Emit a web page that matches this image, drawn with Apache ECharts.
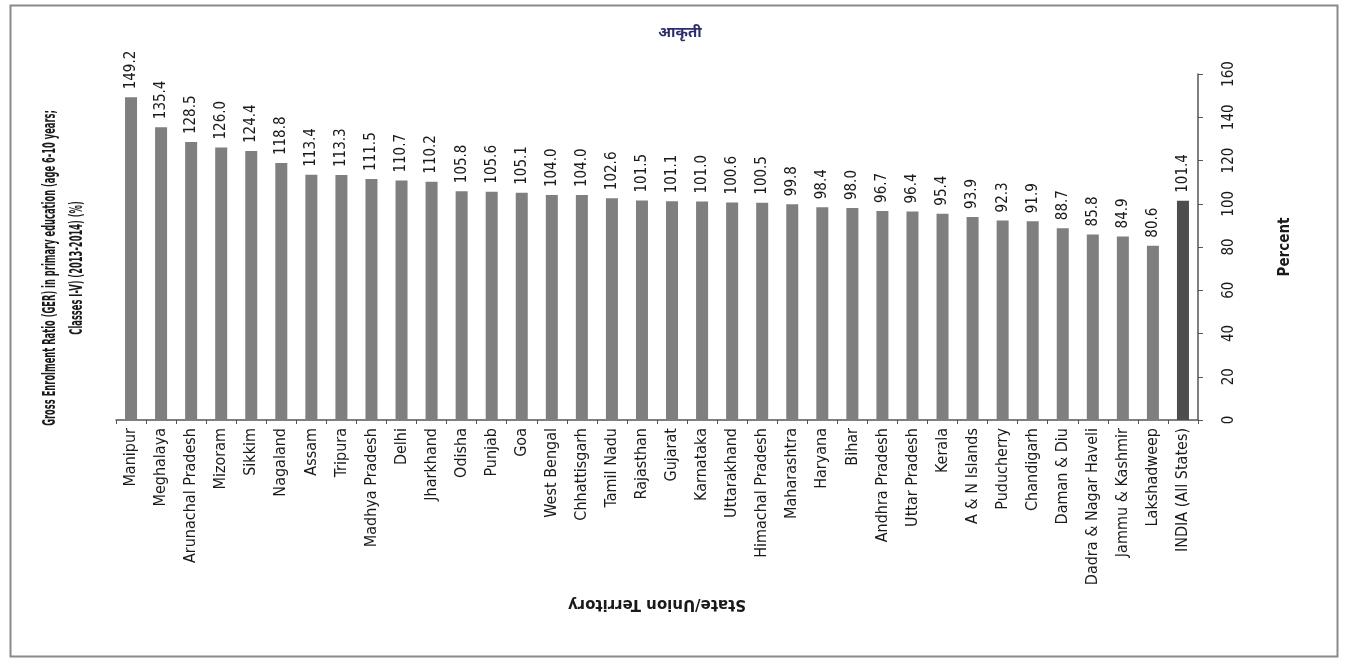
<!DOCTYPE html>
<html>
<head>
<meta charset="utf-8">
<script src="https://cdn.jsdelivr.net/npm/echarts@6/dist/echarts.min.js"></script>
<style>
  html, body { margin: 0; padding: 0; background: #fff; }
  #chart { width: 1346px; height: 660px; }
</style>
</head>
<body>
<div id="chart"></div>
<script>
(function() {
  var states = [
    'Manipur', 'Meghalaya', 'Arunachal Pradesh', 'Mizoram', 'Sikkim', 'Nagaland',
    'Assam', 'Tripura', 'Madhya Pradesh', 'Delhi', 'Jharkhand', 'Odisha',
    'Punjab', 'Goa', 'West Bengal', 'Chhattisgarh', 'Tamil Nadu', 'Rajasthan',
    'Gujarat', 'Karnataka', 'Uttarakhand', 'Himachal Pradesh', 'Maharashtra', 'Haryana',
    'Bihar', 'Andhra Pradesh', 'Uttar Pradesh', 'Kerala', 'A & N Islands', 'Puducherry',
    'Chandigarh', 'Daman & Diu', 'Dadra & Nagar Haveli', 'Jammu & Kashmir', 'Lakshadweep', 'INDIA (All States)'
  ];
  var ger = [
    149.2, 135.4, 128.5, 126.0, 124.4, 118.8,
    113.4, 113.3, 111.5, 110.7, 110.2, 105.8,
    105.6, 105.1, 104.0, 104.0, 102.6, 101.5,
    101.1, 101.0, 100.6, 100.5, 99.8, 98.4,
    98.0, 96.7, 96.4, 95.4, 93.9, 92.3,
    91.9, 88.7, 85.8, 84.9, 80.6, 101.4
  ];
  var totalLabel = 'INDIA (All States)';

  var font = '"DejaVu Sans Condensed", "Liberation Sans", sans-serif';
  var ink = '#1a1a1a';
  var barGray = '#7f7f7f';
  var barDark = '#4d4d4d';

  var chart = echarts.init(document.getElementById('chart'), null, { renderer: 'canvas' });

  var barData = ger.map(function(v, i) {
    return {
      value: v,
      itemStyle: { color: states[i] === totalLabel ? barDark : barGray }
    };
  });

  chart.setOption({
    animation: false,
    backgroundColor: '#fff',
    title: {
      text: 'आकृती',
      left: 675,
      top: 20,
      textAlign: 'center',
      textStyle: { color: '#2e2e6e', fontSize: 15, fontWeight: 'bold', fontFamily: '"Noto Sans", sans-serif' }
    },
    grid: { left: 116, right: 148, top: 74, bottom: 240 },
    xAxis: {
      type: 'category',
      data: states,
      name: 'State/Union Territory',
      nameLocation: 'middle',
      nameRotate: 180,
      nameGap: 176,
      nameTextStyle: { color: ink, fontSize: 15, fontWeight: 'bold', fontFamily: '"DejaVu Sans", sans-serif' },
      axisLine: { lineStyle: { color: '#555', width: 1.5 } },
      axisTick: { show: true, length: 4, lineStyle: { color: '#555' } },
      axisLabel: {
        interval: 0,
        rotate: 90,
        margin: 8,
        color: ink,
        fontSize: 16,
        fontFamily: font
      }
    },
    yAxis: {
      type: 'value',
      position: 'right',
      min: 0,
      max: 160,
      interval: 20,
      name: 'Percent',
      nameLocation: 'middle',
      nameRotate: 90,
      nameGap: 80,
      nameTextStyle: { color: ink, fontSize: 15, fontWeight: 'bold', fontFamily: font },
      axisLine: { show: true, lineStyle: { color: '#555', width: 1.5 } },
      axisTick: { show: true, length: 5, lineStyle: { color: '#555' } },
      axisLabel: {
        rotate: 90,
        margin: 24,
        color: ink,
        fontSize: 15,
        fontFamily: font
      },
      splitLine: { show: false }
    },
    series: [{
      type: 'bar',
      data: barData,
      barWidth: 12,
      label: {
        show: true,
        position: 'top',
        rotate: 90,
        align: 'left',
        verticalAlign: 'middle',
        distance: 8,
        color: ink,
        fontSize: 15,
        fontFamily: font,
        formatter: function(p) { return p.value.toFixed(1); }
      }
    }],
    graphic: [
      {
        type: 'rect',
        left: 8, top: 3,
        shape: { width: 1327, height: 651 },
        style: { fill: 'none', stroke: '#8a8a8a', lineWidth: 2 },
        silent: true
      },
      {
        type: 'text',
        x: 64, y: 268,
        rotation: Math.PI / 2,
        scaleX: 0.545,
        style: {
          text: 'Gross Enrolment Ratio (GER) in primary education (age 6-10 years;\nClasses I-V) (2013-2014) (%)',
          fill: ink,
          font: 'bold 17px ' + font,
          align: 'center',
          verticalAlign: 'middle',
          lineHeight: 27
        },
        silent: true
      }
    ]
  });
  window.addEventListener('resize', function() { chart.resize(); });
})();
</script>
</body>
</html>
